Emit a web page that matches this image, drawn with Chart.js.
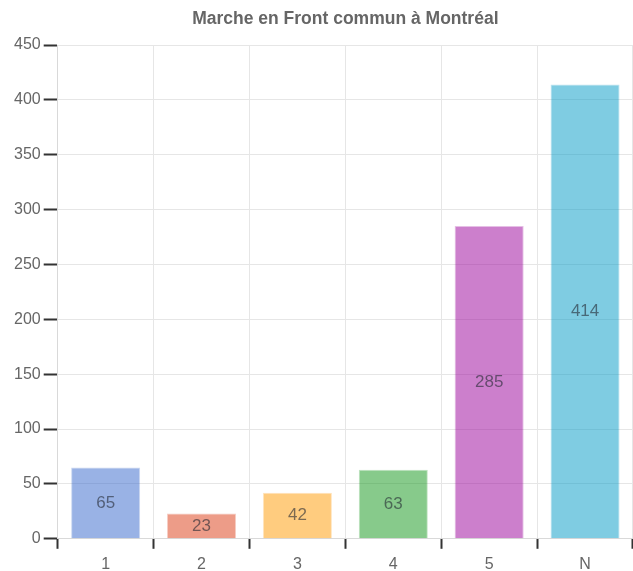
<!DOCTYPE html>
<html>
<head>
<meta charset="utf-8">
<script src="https://cdn.jsdelivr.net/npm/chart.js@4/dist/chart.umd.min.js"></script>
<style>
  html, body { margin: 0; padding: 0; background: #fff; }
  #wrap { width: 633px; height: 571px; }
</style>
</head>
<body>
<div id="wrap"><canvas id="barCanvas"></canvas></div>
<script>
const chartTitle = "Marche en Front commun à Montréal";
const categories = ["1", "2", "3", "4", "5", "N"];
const counts = [65, 23, 42, 63, 285, 414];
const yTicks = [0, 50, 100, 150, 200, 250, 300, 350, 400, 450];
const baseColors = ["51,102,204", "220,57,18", "255,153,0", "16,150,24", "153,0,153", "0,153,198"];

// title centred over the plot area + value labels inside bars
const extras = {
  id: "extras",
  afterDatasetsDraw(chart) {
    const ctx = chart.ctx;
    const area = chart.chartArea;
    ctx.save();
    ctx.textAlign = "center";
    ctx.textBaseline = "middle";
    ctx.fillStyle = "#666";
    ctx.font = "bold 17.5px Arial, 'Liberation Sans', sans-serif";
    ctx.fillText(chartTitle, (area.left + area.right) / 2, 19);

    ctx.font = "17px Arial, 'Liberation Sans', sans-serif";
    ctx.fillStyle = "rgba(35,40,50,0.6)";
    chart.getDatasetMeta(0).data.forEach((bar, i) => {
      ctx.fillText(String(counts[i]), bar.x, (bar.y + bar.base) / 2);
    });
    ctx.restore();
  }
};

new Chart(document.getElementById("barCanvas").getContext("2d"), {
  type: "bar",
  data: {
    labels: categories,
    datasets: [{
      data: counts,
      backgroundColor: baseColors.map((c) => "rgba(" + c + ",0.5)"),
      borderColor: baseColors.map((c) => "rgba(" + c + ",0.25)"),
      borderWidth: 1
    }]
  },
  options: {
    responsive: true,
    maintainAspectRatio: false,
    animation: false,
    layout: { padding: { top: 45, right: 0, left: 11, bottom: -9 } },
    plugins: {
      legend: { display: false },
      title: { display: false },
      tooltip: { enabled: false }
    },
    scales: {
      x: {
        grid: { color: "#e6e6e6", tickColor: "#333", tickWidth: 2, tickLength: 10, offset: true },
        border: { color: "#d9d9d9" },
        ticks: { color: "#666", font: { size: 16, family: "Arial, 'Liberation Sans', sans-serif" }, padding: 6 }
      },
      y: {
        min: 0,
        max: 450,
        afterBuildTicks: (axis) => { axis.ticks = yTicks.map((v) => ({ value: v })); },
        grid: { color: "#e6e6e6", tickColor: "#333", tickWidth: 2, tickLength: 14 },
        border: { color: "#d9d9d9" },
        ticks: { color: "#666", font: { size: 16, family: "Arial, 'Liberation Sans', sans-serif" }, padding: 3 }
      }
    }
  },
  plugins: [extras]
});
</script>
</body>
</html>
